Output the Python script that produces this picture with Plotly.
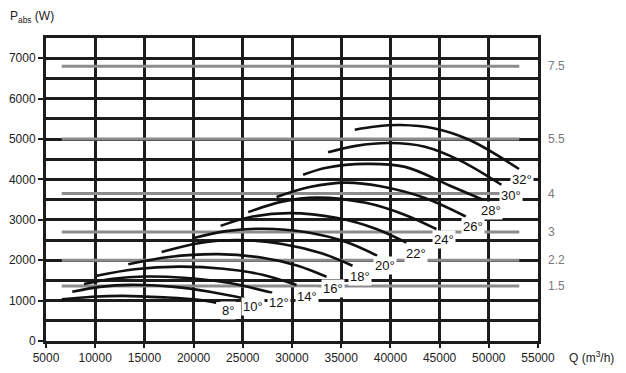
import plotly.graph_objects as go

# Fan curves: air flow Q (m3/h) vs absorbed power P (W), one per blade angle
angles = ['8°', '10°', '12°', '14°', '16°', '18°', '20°', '22°', '24°', '26°', '28°', '30°', '32°']

q8 = [6600, 9700, 12800, 17000, 20500, 22300]
p8 = [1030, 1095, 1118, 1080, 1020, 945]
q10 = [7670, 10500, 13500, 18000, 21650, 25200]
p10 = [1217, 1340, 1390, 1340, 1220, 1053]
q12 = [8860, 11800, 15000, 19000, 23500, 27985]
p12 = [1409, 1540, 1595, 1565, 1440, 1193]
q14 = [10150, 14000, 18500, 23000, 27000, 30460]
p14 = [1615, 1775, 1840, 1790, 1640, 1384]
q16 = [13360, 17500, 22500, 27000, 30500, 33510]
p16 = [1900, 2080, 2150, 2060, 1870, 1590]
q18 = [16750, 20500, 24500, 29000, 33000, 36150]
p18 = [2200, 2420, 2500, 2400, 2170, 1863]
q20 = [20000, 23300, 27000, 31500, 35500, 38650]
p20 = [2550, 2720, 2780, 2690, 2450, 2112]
q22 = [22740, 26000, 29800, 34500, 38500, 41630]
p22 = [2850, 3080, 3165, 3050, 2780, 2435]
q24 = [25550, 29000, 32500, 37500, 41500, 44680]
p24 = [3190, 3450, 3550, 3420, 3120, 2768]
q26 = [28430, 31800, 35500, 39000, 43500, 47660]
p26 = [3563, 3810, 3920, 3830, 3540, 3081]
q28 = [31130, 33500, 37500, 41500, 46000, 49410]
p28 = [4117, 4290, 4385, 4310, 3850, 3496]
q30 = [33670, 36500, 39900, 43500, 47050, 51280]
p30 = [4671, 4830, 4900, 4810, 4472, 3868]
q32 = [36380, 38500, 41000, 44500, 48000, 53070]
p32 = [5230, 5310, 5345, 5260, 4980, 4258]

curves_q = [q8, q10, q12, q14, q16, q18, q20, q22, q24, q26, q28, q30, q32]
curves_p = [p8, p10, p12, p14, p16, p18, p20, p22, p24, p26, p28, p30, p32]

# Curve label anchor points (data coords)
label_q = [23515, 26054, 28665, 31508, 34149, 36891, 39430, 42578, 45422, 48398, 50267, 52298, 53415]
label_p = [745, 845, 962, 1111, 1309, 1607, 1881, 2154, 2502, 2832, 3230, 3595, 4010]

# Motor power levels (kW) shown as gray horizontal lines
motor_kw = ['7.5', '5.5', '4', '3', '2.2', '1.5']
motor_p = [6800, 5000, 3650, 2700, 2000, 1360]
motor_q = [6600, 53100]

x_ticks = [5000, 10000, 15000, 20000, 25000, 30000, 35000, 40000, 45000, 50000, 55000]
y_ticks = [0, 1000, 2000, 3000, 4000, 5000, 6000, 7000]

FONT = 'Arial, Liberation Sans, sans-serif'
GRID = '#1c1c1c'
TXT = '#222222'

fig = go.Figure()

for kw, p in zip(motor_kw, motor_p):
    fig.add_trace(go.Scatter(x=motor_q, y=[p, p], mode='lines',
                             line=dict(color='#8c8c8c', width=3),
                             hoverinfo='skip', showlegend=False))

for q, p in zip(curves_q, curves_p):
    fig.add_trace(go.Scatter(x=q, y=p, mode='lines',
                             line=dict(color='#111111', width=2.6, shape='spline', smoothing=1.0),
                             hoverinfo='skip', showlegend=False))

annotations = []
for a, lq, lp in zip(angles, label_q, label_p):
    annotations.append(dict(x=lq, y=lp, xref='x', yref='y', text=a, showarrow=False,
                            font=dict(family=FONT, size=13, color='#111111'),
                            bgcolor='white', borderpad=1))

for kw, p in zip(motor_kw, motor_p):
    annotations.append(dict(x=55000, y=p, xref='x', yref='y', text=kw, showarrow=False,
                            xanchor='left', xshift=8,
                            font=dict(family=FONT, size=12, color='#7a7a7a')))

annotations.append(dict(x=-0.077, y=1.069, xref='paper', yref='paper', xanchor='left', yanchor='middle',
                        text='P<sub>abs</sub> (W)', showarrow=False,
                        font=dict(family=FONT, size=12, color=TXT)))
annotations.append(dict(x=1.058, y=-0.053, xref='paper', yref='paper', xanchor='left', yanchor='middle',
                        text='Q (m<sup>3</sup>/h)', showarrow=False,
                        font=dict(family=FONT, size=12, color=TXT)))

# The page body has an 8px margin, so the figure is 8px smaller and its margins compensate.
fig.update_layout(
    width=618, height=365,
    margin=dict(l=38, r=88, t=30, b=32, autoexpand=False),
    paper_bgcolor='white', plot_bgcolor='white',
    annotations=annotations,
    xaxis=dict(range=[5000, 55000], tickvals=x_ticks, ticktext=[str(v) for v in x_ticks],
               showgrid=True, gridcolor=GRID, gridwidth=3,
               showline=True, linecolor=GRID, linewidth=3, mirror=True,
               ticks='outside', ticklen=4, tickwidth=2, tickcolor=GRID,
               zeroline=False, tickfont=dict(family=FONT, size=12, color=TXT)),
    yaxis=dict(range=[0, 7500], tickvals=y_ticks, ticktext=[str(v) for v in y_ticks],
               showgrid=True, gridcolor=GRID, gridwidth=3,
               minor=dict(dtick=500, tick0=0, showgrid=True, gridcolor=GRID, gridwidth=3),
               showline=True, linecolor=GRID, linewidth=3, mirror=True,
               ticks='outside', ticklen=5, tickwidth=2, tickcolor=GRID,
               zeroline=False, tickfont=dict(family=FONT, size=12, color=TXT)),
)

fig.write_html('out.html')
